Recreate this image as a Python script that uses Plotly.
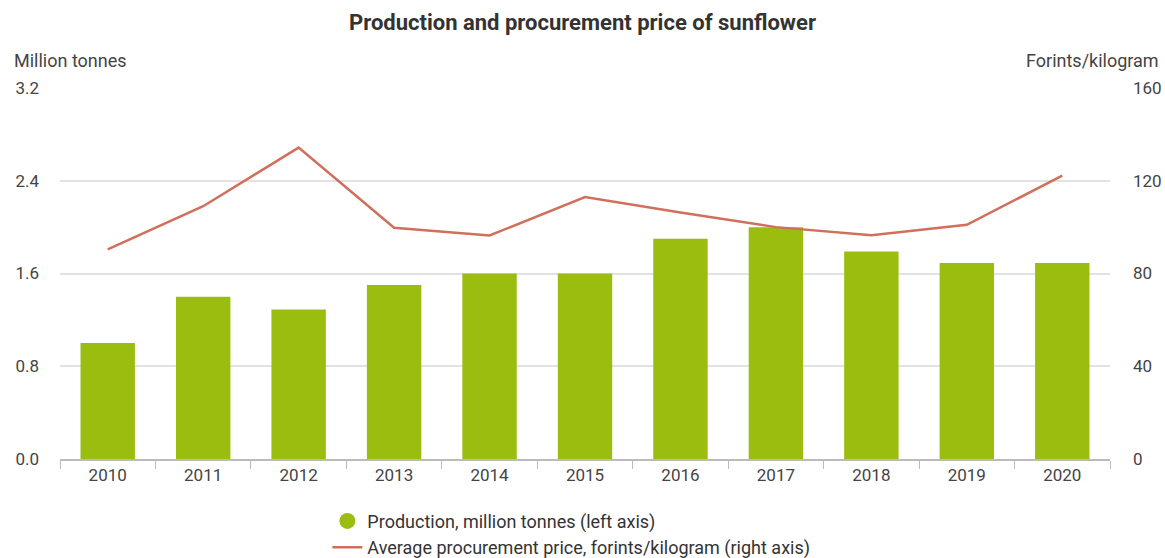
import plotly.graph_objects as go

# Adatok
years = ['2010', '2011', '2012', '2013', '2014', '2015', '2016', '2017', '2018', '2019', '2020']
production = [1.0, 1.4, 1.29, 1.5, 1.6, 1.6, 1.9, 2.0, 1.79, 1.69, 1.69]
price = [90.4, 109, 134.3, 99.7, 96.4, 113, 106.3, 100, 96.5, 101, 122.2]

left_ticks = [0, 0.8, 1.6, 2.4, 3.2]
left_labels = ['0.0', '0.8', '1.6', '2.4', '3.2']
right_ticks = [0, 40, 80, 120, 160]

green = '#9abd10'
red = '#d0705c'
font = 'Roboto, Arial, sans-serif'

fig = go.Figure()

# oszlopok (bal tengely)
fig.add_trace(go.Bar(x=years, y=production, marker=dict(color=green, line=dict(width=0)),
                     showlegend=False, yaxis='y'))

# jelmagyarazat kor alaku jellel
fig.add_trace(go.Scatter(x=[years[0]], y=[None], mode='markers',
                         marker=dict(symbol='circle', size=16, color=green),
                         name='Production, million tonnes (left axis)'))

# vonal (jobb tengely)
fig.add_trace(go.Scatter(x=years, y=price, mode='lines', line=dict(color=red, width=2.5),
                         name='Average procurement price, forints/kilogram (right axis)',
                         yaxis='y2'))

fig.update_layout(
    width=1165, height=558,
    margin=dict(l=60, r=55, t=88, b=99, autoexpand=False),
    paper_bgcolor='white', plot_bgcolor='white',
    font=dict(family=font, size=17, color='#444'),
    title=dict(text='<b>Production and procurement price of sunflower</b>',
               x=0.5, xanchor='center', xref='container', y=0.96, yanchor='middle',
               yref='container', font=dict(family=font, size=22, color='#333')),
    bargap=0.43,
    xaxis=dict(type='category', range=[-0.5, 10.5], tickson='boundaries', ticks='outside',
               ticklen=8, tickcolor='#bbb', showline=True, linecolor='#bbb', linewidth=1.5,
               showgrid=False, automargin=False, tickfont=dict(size=17, color='#444')),
    yaxis=dict(range=[0, 3.2], tickvals=left_ticks, ticktext=left_labels,
               showgrid=True, gridcolor='#e2e2e2', gridwidth=1.5, zeroline=False,
               automargin=False, ticklabelstandoff=20, tickfont=dict(size=17, color='#444')),
    yaxis2=dict(range=[0, 160], tickvals=right_ticks, overlaying='y', side='right',
                showgrid=False, zeroline=False, automargin=False, ticklabelstandoff=22,
                tickfont=dict(size=17, color='#444')),
    legend=dict(orientation='v', x=0.281, xanchor='left', xref='container',
                y=0.099, yanchor='top', yref='container',
                font=dict(size=18, color='#333'), tracegroupgap=0, itemsizing='trace'),
    annotations=[
        dict(text='Million tonnes', xref='paper', yref='paper', x=-0.046, y=1.075,
             xanchor='left', yanchor='middle', showarrow=False,
             font=dict(size=18, color='#444')),
        dict(text='Forints/kilogram', xref='paper', yref='paper', x=1.049, y=1.075,
             xanchor='right', yanchor='middle', showarrow=False,
             font=dict(size=18, color='#444')),
    ],
)

fig.write_html('out.html', config={'displayModeBar': False},
               post_script="document.body.style.margin='0';")
